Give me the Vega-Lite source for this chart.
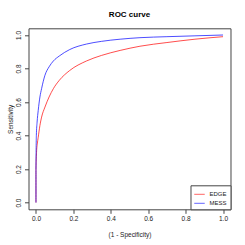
{
  "$schema": "https://vega.github.io/schema/vega-lite/v6.json",
  "autosize": "none",
  "width": 202,
  "height": 181,
  "padding": {"left": 28.5, "top": 28.3, "right": 14.5, "bottom": 35.5},
  "background": "white",
  "title": {"text": "ROC curve", "fontSize": 8, "fontWeight": "bold", "font": "Liberation Sans", "color": "black", "offset": 9, "anchor": "middle"},
  "config": {
    "view": {"stroke": "#444", "strokeWidth": 1},
    "axis": {"grid": false, "domain": false, "tickColor": "#444", "tickSize": 4, "labelFont": "Liberation Sans", "labelFontSize": 6.5, "labelColor": "#222", "titleFont": "Liberation Sans", "titleFontSize": 6.5, "titleFontWeight": "normal", "titleColor": "#222"}
  },
  "data": {"values": [
    {"m": "EDGE", "fpr": 0, "tpr": 0},
    {"m": "EDGE", "fpr": 0, "tpr": 0.2},
    {"m": "EDGE", "fpr": 0.003, "tpr": 0.3},
    {"m": "EDGE", "fpr": 0.007, "tpr": 0.35},
    {"m": "EDGE", "fpr": 0.012, "tpr": 0.39},
    {"m": "EDGE", "fpr": 0.021, "tpr": 0.46},
    {"m": "EDGE", "fpr": 0.03, "tpr": 0.51},
    {"m": "EDGE", "fpr": 0.048, "tpr": 0.57},
    {"m": "EDGE", "fpr": 0.07, "tpr": 0.63},
    {"m": "EDGE", "fpr": 0.093, "tpr": 0.68},
    {"m": "EDGE", "fpr": 0.125, "tpr": 0.73},
    {"m": "EDGE", "fpr": 0.18, "tpr": 0.788},
    {"m": "EDGE", "fpr": 0.27, "tpr": 0.845},
    {"m": "EDGE", "fpr": 0.35, "tpr": 0.878},
    {"m": "EDGE", "fpr": 0.45, "tpr": 0.908},
    {"m": "EDGE", "fpr": 0.556, "tpr": 0.933},
    {"m": "EDGE", "fpr": 0.7, "tpr": 0.955},
    {"m": "EDGE", "fpr": 0.85, "tpr": 0.975},
    {"m": "EDGE", "fpr": 1, "tpr": 0.99},
    {"m": "MESS", "fpr": 0, "tpr": 0},
    {"m": "MESS", "fpr": 0, "tpr": 0.2},
    {"m": "MESS", "fpr": 0.002, "tpr": 0.4},
    {"m": "MESS", "fpr": 0.006, "tpr": 0.48},
    {"m": "MESS", "fpr": 0.012, "tpr": 0.55},
    {"m": "MESS", "fpr": 0.021, "tpr": 0.63},
    {"m": "MESS", "fpr": 0.03, "tpr": 0.68},
    {"m": "MESS", "fpr": 0.048, "tpr": 0.76},
    {"m": "MESS", "fpr": 0.07, "tpr": 0.81},
    {"m": "MESS", "fpr": 0.093, "tpr": 0.845},
    {"m": "MESS", "fpr": 0.125, "tpr": 0.875},
    {"m": "MESS", "fpr": 0.18, "tpr": 0.913},
    {"m": "MESS", "fpr": 0.27, "tpr": 0.946},
    {"m": "MESS", "fpr": 0.35, "tpr": 0.962},
    {"m": "MESS", "fpr": 0.45, "tpr": 0.975},
    {"m": "MESS", "fpr": 0.556, "tpr": 0.984},
    {"m": "MESS", "fpr": 0.7, "tpr": 0.99},
    {"m": "MESS", "fpr": 0.85, "tpr": 0.995},
    {"m": "MESS", "fpr": 1, "tpr": 1}
  ]},
  "mark": {"type": "line", "strokeWidth": 1, "strokeOpacity": 0.7, "interpolate": "monotone"},
  "encoding": {
    "x": {"field": "fpr", "type": "quantitative", "title": "(1 - Specificity)",
      "scale": {"domain": [-0.04, 1.04], "nice": false, "zero": false},
      "axis": {"values": [0, 0.2, 0.4, 0.6, 0.8, 1], "format": ".1f", "labelPadding": 2, "titleY": 25, "titleBaseline": "middle"}},
    "y": {"field": "tpr", "type": "quantitative", "title": "Sensitivity",
      "scale": {"domain": [-0.04, 1.04], "nice": false, "zero": false},
      "axis": {"values": [0, 0.2, 0.4, 0.6, 0.8, 1], "format": ".1f", "labelAngle": -90, "labelAlign": "center", "labelBaseline": "bottom", "labelPadding": 3, "titleX": -18, "titleBaseline": "middle"}},
    "color": {"field": "m", "type": "nominal",
      "scale": {"domain": ["EDGE", "MESS"], "range": ["#ff0000", "#0000ff"]},
      "legend": {"title": null, "orient": "bottom-right", "offset": 0, "symbolType": "stroke", "symbolSize": 110, "symbolStrokeWidth": 1, "symbolOpacity": 0.6, "labelFont": "Liberation Sans", "labelFontSize": 6, "labelColor": "#222", "rowPadding": 0, "padding": 3, "strokeColor": "#444", "fillColor": "white", "labelOffset": 4}}
  }
}
